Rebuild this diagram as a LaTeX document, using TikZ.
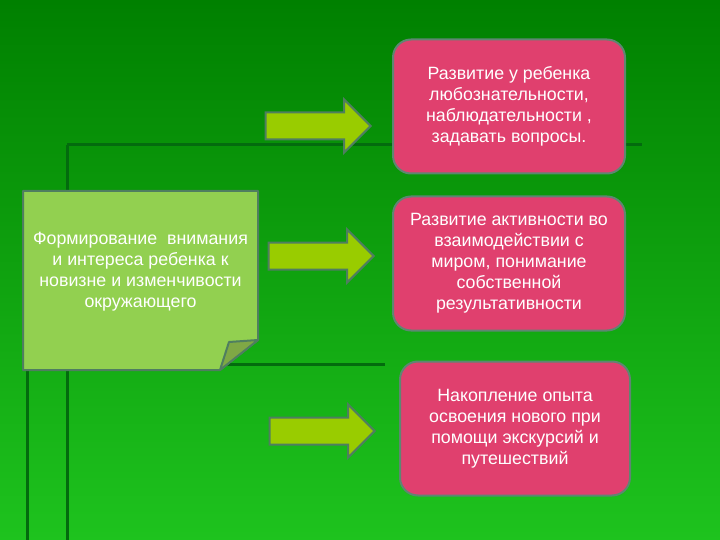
\documentclass[tikz,border=0pt]{standalone}
\usepackage{fontspec}
\setmainfont{Liberation Sans}
\usetikzlibrary{shapes.arrows}
\definecolor{bgtop}{HTML}{008000}
\definecolor{bgbot}{HTML}{1EC31E}
\definecolor{guidegreen}{HTML}{036B0E}
\definecolor{notefill}{HTML}{92D050}
\definecolor{flapfill}{HTML}{7FA845}
\definecolor{rimgreen}{HTML}{4F7E60}
\definecolor{goalfill}{HTML}{E0406E}
\definecolor{goalrim}{HTML}{5E8672}
\definecolor{pointerfill}{HTML}{99CC00}
\begin{document}
\begin{tikzpicture}[x=1pt, y=-1pt,
                font=\fontsize{17.8}{21}\selectfont,
                guide/.style={draw=guidegreen, line width=3pt},
                note/.style={fill=notefill, draw=rimgreen, line width=2pt, line join=round},
                goal/.style={rectangle, rounded corners=18pt, fill=goalfill, draw=goalrim, line width=2pt,
                             text=white, align=center, minimum width=232pt, minimum height=134pt},
                pointer/.style={single arrow, fill=pointerfill, draw=rimgreen, line width=2pt,
                                minimum height=105pt, inner xsep=0pt, inner ysep=12.5pt,
                                single arrow head extend=13pt, anchor=tip}
            ]
            \shade[top color=bgtop, bottom color=bgbot] (0,0) rectangle (720,540);
            \useasboundingbox (0,0) rectangle (720,540);
            % background rules
            \draw[guide] (67,145) -- (642,145);
            \draw[guide] (67,145) -- (67,540);
            \draw[guide] (27,300) -- (27,540);
            \draw[guide] (200,364) -- (385,364);
            % note with folded corner
            \path[note] (23,191) -- (258,191) -- (258,340) -- (220,370) -- (23,370) -- cycle;
            \path[note, fill=flapfill] (258,340) -- (229,342) -- (220,370) -- cycle;
            \node[text=white, align=center, inner sep=0pt] (idea) at (140.5,272)
                {Формирование\ \ внимания\\и интереса ребенка к\\новизне и изменчивости\\окружающего};
            % goals
            \node[goal] (goalA) at (509,106.5)
                {Развитие у ребенка\\любознательности,\\наблюдательности ,\\задавать вопросы.};
            \node[goal] (goalB) at (509,263.5)
                {Развитие активности во\\взаимодействии с\\миром, понимание\\собственной\\результативности};
            \node[goal, minimum width=230pt] (goalC) at (515,428.5)
                {Накопление опыта\\освоения нового при\\помощи экскурсий и\\путешествий};
            % pointers
            \node[pointer] (pointA) at (372,126) {};
            \node[pointer] (pointB) at (375,256) {};
            \node[pointer] (pointC) at (376,431) {};
        \end{tikzpicture}
\end{document}
